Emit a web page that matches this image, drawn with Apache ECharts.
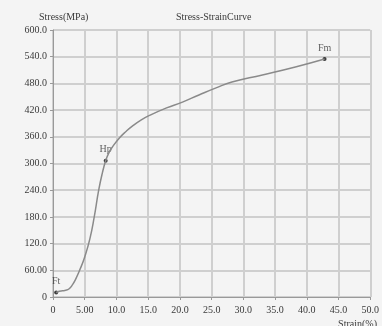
<!DOCTYPE html>
<html>
<head>
<meta charset="utf-8">
<script src="https://cdn.jsdelivr.net/npm/echarts@6/dist/echarts.min.js"></script>
<style>html,body{margin:0;padding:0;background:#f4f4f4;}#c{width:382px;height:326px;}</style>
</head>
<body>
<div id="c"></div>
<script>
// Stress-strain curve data (strain %, stress MPa)
const curveStrain = [0.5, 1.0, 1.5, 2.0, 2.5, 3.0, 3.5, 4.2, 5.0, 5.8, 6.5, 7.2, 7.8, 8.3, 8.8, 9.4, 10.5, 11.5, 12.5, 13.8, 15.2, 17.9, 20.4, 23.0, 25.7, 28.2, 33.0, 38.2, 42.8];
const curveStress = [10, 13, 14, 15, 18, 26, 38, 60, 90, 130, 180, 240, 280, 306, 324, 338, 358, 372, 384, 397, 408, 425, 438, 454, 470, 483, 499, 517, 535];
const keyNames = ['Ft', 'Hp', 'Fm'];
const keyStrain = [0.5, 8.3, 42.8];
const keyStress = [10, 306, 535];
const xTickLabels = ['0', '5.00', '10.0', '15.0', '20.0', '25.0', '30.0', '35.0', '40.0', '45.0', '50.0'];
const yTickLabels = ['0', '60.00', '120.0', '180.0', '240.0', '300.0', '360.0', '420.0', '480.0', '540.0', '600.0'];

const font = 'Liberation Serif';
const chart = echarts.init(document.getElementById('c'));
chart.setOption({
  backgroundColor: '#f4f4f4',
  animation: false,
  title: [
    {text: 'Stress-StrainCurve', left: 171, top: 7, textStyle: {fontFamily: font, fontSize: 10, fontWeight: 'normal', color: '#3a3a3a'}},
    {text: 'Stress(MPa)', left: 34, top: 7, textStyle: {fontFamily: font, fontSize: 10, fontWeight: 'normal', color: '#3a3a3a'}},
    {text: 'Strain(%)', right: 0, top: 314, textStyle: {fontFamily: font, fontSize: 10, fontWeight: 'normal', color: '#3a3a3a'}}
  ],
  grid: {left: 53, right: 10, top: 30, bottom: 29},
  xAxis: {
    type: 'value', min: 0, max: 50, interval: 5,
    axisLine: {show: true, lineStyle: {color: '#999', width: 1}},
    axisTick: {show: true, length: 3, lineStyle: {color: '#999'}},
    axisLabel: {fontFamily: font, fontSize: 10, color: '#3a3a3a', margin: 8,
      formatter: v => xTickLabels[Math.round(v / 5)]},
    splitLine: {show: true, lineStyle: {color: '#cfcfcf', width: 2}}
  },
  yAxis: {
    type: 'value', min: 0, max: 600, interval: 60,
    axisLine: {show: true, lineStyle: {color: '#999', width: 1}},
    axisTick: {show: true, length: 3, lineStyle: {color: '#999'}},
    axisLabel: {fontFamily: font, fontSize: 10, color: '#3a3a3a', margin: 6,
      formatter: v => yTickLabels[Math.round(v / 60)]},
    splitLine: {show: true, lineStyle: {color: '#cfcfcf', width: 2}}
  },
  series: [
    {
      type: 'line', smooth: 0.5, showSymbol: false,
      lineStyle: {color: '#8a8a8a', width: 1.5},
      data: curveStrain.map((s, i) => [s, curveStress[i]])
    },
    {
      type: 'scatter', symbolSize: 4,
      itemStyle: {color: '#111'},
      label: {show: true, position: 'top', distance: 4, fontFamily: font, fontSize: 10, color: '#3a3a3a',
        formatter: p => keyNames[p.dataIndex]},
      data: keyStrain.map((s, i) => [s, keyStress[i]])
    }
  ]
});
</script>
</body>
</html>
